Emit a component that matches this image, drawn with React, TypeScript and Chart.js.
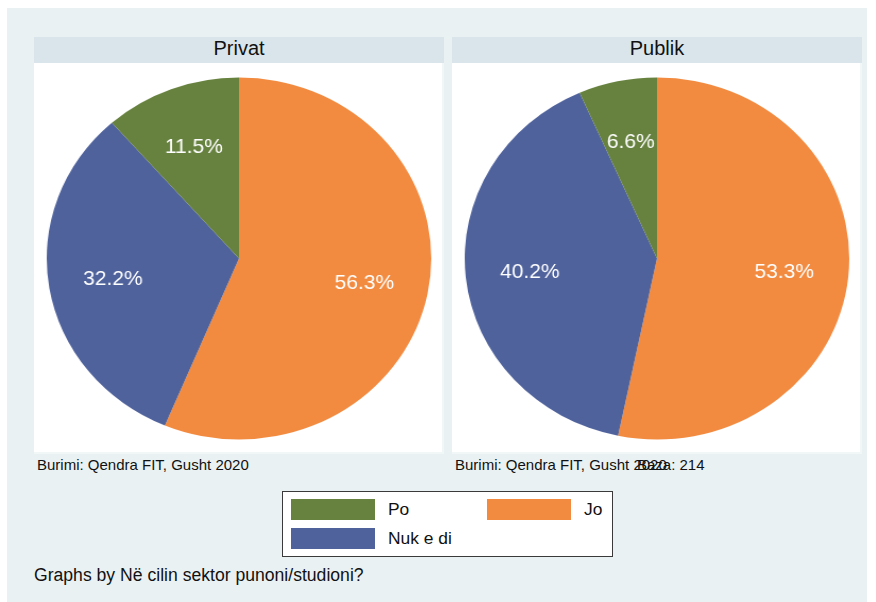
import React, { useEffect, useRef } from "react";
import { Chart, registerables } from "chart.js";

Chart.register(...registerables);

// Slices are listed clockwise from 12 o'clock
const categories = ["Jo", "Nuk e di", "Po"];
const privatValues = [56.3, 32.2, 11.5];
const publikValues = [53.3, 40.2, 6.6];
const sliceColors = ["#F28B40", "#4F629C", "#67823F"];
const panelTitles = ["Privat", "Publik"];
const legendOrder = ["Po", "Jo", "Nuk e di"];
const sourceNote = "Burimi: Qendra FIT, Gusht 2020";
const baseNote = "Baza: 214";
const byNote = "Graphs by Në cilin sektor punoni/studioni?";

const FONT = "'Liberation Sans', Arial, Helvetica, sans-serif";
const STRETCH = 410 / 386;

const labelPlugin = {
  id: "sliceLabels",
  afterDatasetsDraw(chart: any) {
    const ctx = chart.ctx;
    const meta = chart.getDatasetMeta(0);
    const data = chart.data.datasets[0].data as number[];
    ctx.save();
    ctx.fillStyle = "#ffffff";
    ctx.font = `21px ${FONT}`;
    ctx.textAlign = "center";
    ctx.textBaseline = "middle";
    meta.data.forEach((arc: any, i: number) => {
      const p = arc.getProps(["x", "y", "startAngle", "endAngle", "outerRadius"], true);
      const mid = (p.startAngle + p.endAngle) / 2;
      const r = p.outerRadius * 0.665;
      const x = p.x + Math.cos(mid) * r;
      const y = p.y + Math.sin(mid) * r;
      ctx.save();
      ctx.translate(x, y);
      ctx.scale(1 / STRETCH, 1);
      ctx.fillText(data[i].toFixed(1) + "%", 0, 1.5);
      ctx.restore();
    });
    ctx.restore();
  },
};

function PiePanel({ values }: { values: number[] }) {
  const ref = useRef<HTMLCanvasElement | null>(null);
  useEffect(() => {
    if (!ref.current) return;
    const chart = new Chart(ref.current, {
      type: "pie",
      data: {
        labels: categories,
        datasets: [
          {
            data: values,
            backgroundColor: sliceColors,
            borderWidth: 0,
          },
        ],
      },
      options: {
        responsive: false,
        animation: false,
        devicePixelRatio: 1,
        radius: 181,
        layout: { padding: 0 },
        plugins: {
          legend: { display: false },
          tooltip: { enabled: false },
          title: { display: false },
        },
      },
      plugins: [labelPlugin],
    });
    return () => chart.destroy();
  }, [values]);
  return (
    <canvas
      ref={ref}
      width={386}
      height={391}
      style={{ width: "410px", height: "391px", display: "block" }}
    />
  );
}

export default function App() {
  const panels = [
    { left: 34, title: panelTitles[0], values: privatValues },
    { left: 452, title: panelTitles[1], values: publikValues },
  ];
  const colorOf = (name: string) => sliceColors[categories.indexOf(name)];
  const legendPos: Record<string, { x: number; y: number }> = {
    Po: { x: 291, y: 499 },
    Jo: { x: 487, y: 499 },
    "Nuk e di": { x: 291, y: 528 },
  };
  const text = (extra: React.CSSProperties): React.CSSProperties => ({
    position: "absolute",
    fontFamily: FONT,
    color: "#111",
    whiteSpace: "nowrap",
    ...extra,
  });
  return (
    <div
      style={{
        position: "absolute",
        left: 0,
        top: 0,
        width: 876,
        height: 602,
        background: "#ffffff",
        overflow: "hidden",
      }}
    >
      <div
        style={{
          position: "absolute",
          left: 7,
          top: 8,
          width: 860,
          height: 594,
          background: "#EAF1F3",
        }}
      />
      {panels.map((p) => (
        <React.Fragment key={p.title}>
          <div
            style={{
              position: "absolute",
              left: p.left,
              top: 37,
              width: 410,
              height: 26,
              background: "#D9E5EB",
            }}
          />
          <div
            style={text({
              left: p.left,
              top: 38,
              width: 410,
              textAlign: "center",
              fontSize: 20,
              lineHeight: "20px",
            })}
          >
            {p.title}
          </div>
          <div
            style={{
              position: "absolute",
              left: p.left,
              top: 63,
              width: 410,
              height: 391,
              background: "#ffffff",
              boxShadow: "inset -2px -2px 0 #F1F6F7",
            }}
          >
            <PiePanel values={p.values} />
          </div>
          <div style={text({ left: p.left + 3, top: 457, fontSize: 15, lineHeight: "15px" })}>
            {sourceNote}
          </div>
        </React.Fragment>
      ))}
      <div style={text({ left: 637, top: 457, fontSize: 15, lineHeight: "15px" })}>{baseNote}</div>
      <div
        style={{
          position: "absolute",
          left: 282,
          top: 491,
          width: 329,
          height: 64,
          background: "#ffffff",
          border: "1px solid #3a3a3a",
        }}
      />
      {legendOrder.map((name) => {
        const pos = legendPos[name];
        return (
          <React.Fragment key={name}>
            <div
              style={{
                position: "absolute",
                left: pos.x,
                top: pos.y,
                width: 84,
                height: 21,
                background: colorOf(name),
              }}
            />
            <div
              style={text({
                left: pos.x + 97,
                top: pos.y + 17 - 14.8,
                fontSize: 17.4,
                lineHeight: "17.4px",
              })}
            >
              {name}
            </div>
          </React.Fragment>
        );
      })}
      <div style={text({ left: 34, top: 567, fontSize: 17.6, lineHeight: "17.6px" })}>{byNote}</div>
    </div>
  );
}
